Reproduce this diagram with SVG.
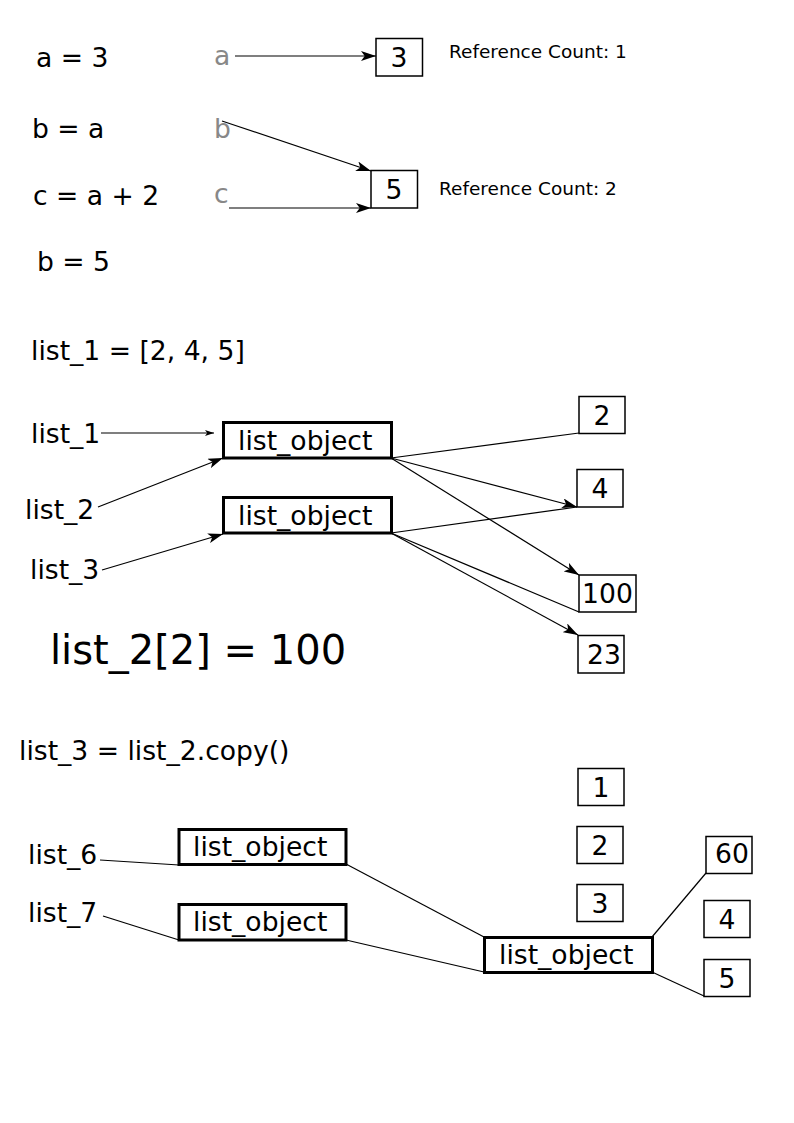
<svg xmlns="http://www.w3.org/2000/svg" width="794" height="1123" viewBox="0 0 794 1123">
<style>
text{font-family:"DejaVu Sans","Liberation Sans",sans-serif;fill:#000}
.t{font-size:26.6px}
.g{font-size:26.6px;fill:#888}
.rc{font-size:18.5px}
.big{font-size:40px}
.box{fill:#fff;stroke:#000;stroke-width:1.5}
.lo{fill:#fff;stroke:#000;stroke-width:3}
.c{fill:none;stroke:#000;stroke-width:1.2}
.cm{text-anchor:middle}
</style>
<defs>
<marker id="arr" viewBox="0 0 12 8" refX="12" refY="4" markerWidth="15" markerHeight="10" markerUnits="userSpaceOnUse" orient="auto">
<path d="M0,0 L12,4 L0,8 L3,4 Z" fill="#000"/>
</marker>
<marker id="arrs" viewBox="0 0 12 8" refX="12" refY="4" markerWidth="10" markerHeight="6" markerUnits="userSpaceOnUse" orient="auto">
<path d="M0,0 L12,4 L0,8 L3,4 Z" fill="#000"/>
</marker>
</defs>
<rect width="794" height="1123" fill="#fff"/>

<g id="code">
<text class="t" x="36" y="67">a = 3</text>
<text class="t" x="32" y="138">b = a</text>
<text class="t" x="33" y="205">c = a + 2</text>
<text class="t" x="37" y="271">b = 5</text>
<text class="t" x="31" y="360">list_1 = [2, 4, 5]</text>
<text class="big" x="50" y="664">list_2[2] = 100</text>
<text class="t" x="19" y="760">list_3 = list_2.copy()</text>
</g>

<g id="connectors">
<line class="c" x1="235" y1="56" x2="376" y2="56" marker-end="url(#arr)"/>
<line class="c" x1="222" y1="121" x2="371" y2="171" marker-end="url(#arr)"/>
<line class="c" x1="229" y1="208" x2="371" y2="208" marker-end="url(#arr)"/>

<line class="c" stroke-width="0.9" x1="101" y1="433" x2="214" y2="433" marker-end="url(#arrs)"/>
<line class="c" stroke-width="0.9" x1="98" y1="507" x2="223" y2="458" marker-end="url(#arr)"/>
<line class="c" x1="102" y1="570" x2="223" y2="534" marker-end="url(#arr)"/>
<line class="c" x1="391" y1="458" x2="579" y2="433"/>
<line class="c" x1="391" y1="458" x2="577" y2="507" marker-end="url(#arr)"/>
<line class="c" x1="391" y1="458" x2="579" y2="575" marker-end="url(#arr)"/>
<line class="c" x1="391" y1="533" x2="577" y2="507"/>
<line class="c" x1="391" y1="533" x2="579" y2="612"/>
<line class="c" x1="391" y1="533" x2="578" y2="635" marker-end="url(#arr)"/>

<line class="c" x1="100" y1="860" x2="179" y2="865"/>
<line class="c" x1="103" y1="916" x2="179" y2="940"/>
<line class="c" x1="346" y1="864" x2="484" y2="937"/>
<line class="c" x1="346" y1="940" x2="484" y2="972"/>
<line class="c" x1="652" y1="937" x2="706" y2="873"/>
<line class="c" x1="652" y1="972" x2="704" y2="996"/>
</g>

<g id="var-a"><text class="g" x="214" y="65">a</text></g>
<g id="var-b"><text class="g" x="214" y="138">b</text></g>
<g id="var-c"><text class="g" x="214" y="203">c</text></g>

<g id="obj-3">
<rect class="box" x="376" y="38.5" width="46.5" height="37.5"/>
<text class="t cm" x="399" y="67">3</text>
</g>
<g id="rc1"><text class="rc" x="449" y="58">Reference Count: 1</text></g>
<g id="obj-5">
<rect class="box" x="371" y="170.5" width="46.5" height="37.5"/>
<text class="t cm" x="394" y="199">5</text>
</g>
<g id="rc2"><text class="rc" x="439" y="195">Reference Count: 2</text></g>

<g id="name-list_1"><text class="t" x="31" y="443">list_1</text></g>
<g id="name-list_2"><text class="t" x="25" y="519">list_2</text></g>
<g id="name-list_3"><text class="t" x="30" y="579">list_3</text></g>

<g id="listobj-1">
<rect class="lo" x="223.5" y="422.5" width="168" height="35.5"/>
<text class="t" x="238" y="450">list_object</text>
</g>
<g id="listobj-2">
<rect class="lo" x="223.5" y="497.5" width="168" height="35.5"/>
<text class="t" x="238" y="525">list_object</text>
</g>

<g id="val-2">
<rect class="box" x="579" y="396.5" width="46" height="37"/>
<text class="t cm" x="602" y="425">2</text>
</g>
<g id="val-4">
<rect class="box" x="577" y="469.5" width="46" height="37.5"/>
<text class="t cm" x="600" y="498">4</text>
</g>
<g id="val-100">
<rect class="box" x="579" y="575" width="57" height="37"/>
<text class="t cm" x="607.5" y="603">100</text>
</g>
<g id="val-23">
<rect class="box" x="578" y="635.5" width="46" height="37.5"/>
<text class="t cm" x="604" y="664">23</text>
</g>

<g id="name-list_6"><text class="t" x="28" y="864">list_6</text></g>
<g id="name-list_7"><text class="t" x="28" y="922">list_7</text></g>

<g id="listobj-3">
<rect class="lo" x="179" y="829.5" width="167" height="35"/>
<text class="t" x="193" y="856">list_object</text>
</g>
<g id="listobj-4">
<rect class="lo" x="179" y="904.5" width="167" height="35.5"/>
<text class="t" x="193" y="931">list_object</text>
</g>
<g id="listobj-5">
<rect class="lo" x="484.5" y="937.5" width="168" height="35"/>
<text class="t" x="499" y="964">list_object</text>
</g>

<g id="val-1b">
<rect class="box" x="578" y="768.5" width="46" height="37"/>
<text class="t cm" x="601" y="797">1</text>
</g>
<g id="val-2b">
<rect class="box" x="577" y="826.5" width="46" height="37"/>
<text class="t cm" x="600" y="855">2</text>
</g>
<g id="val-3b">
<rect class="box" x="577" y="884.5" width="46" height="37"/>
<text class="t cm" x="600" y="913">3</text>
</g>
<g id="val-60">
<rect class="box" x="706" y="836.5" width="46" height="37"/>
<text class="t cm" x="732" y="863">60</text>
</g>
<g id="val-4b">
<rect class="box" x="704" y="900.5" width="46" height="37"/>
<text class="t cm" x="727" y="929">4</text>
</g>
<g id="val-5b">
<rect class="box" x="704" y="959.5" width="46" height="37"/>
<text class="t cm" x="727" y="988">5</text>
</g>
</svg>
